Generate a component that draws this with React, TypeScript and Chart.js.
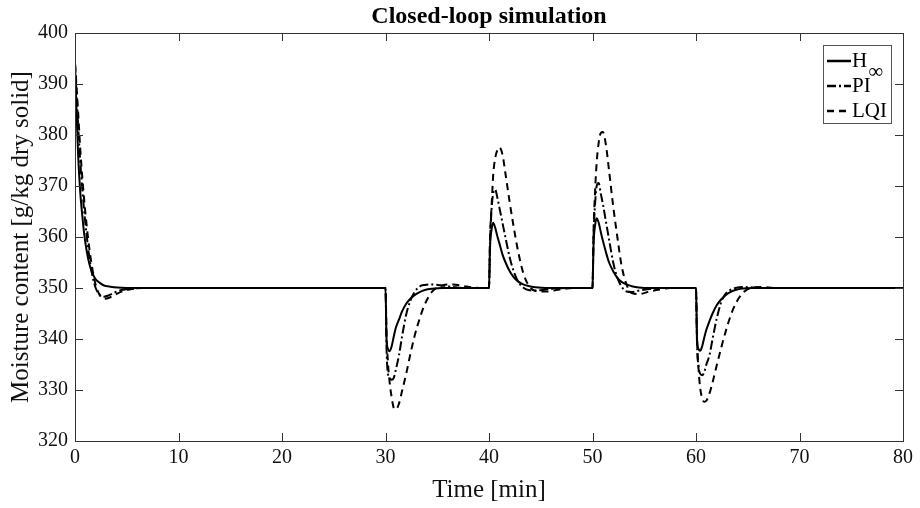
import React, { useEffect, useRef } from "react";
import { Chart, registerables } from "chart.js";

Chart.register(...registerables);

const FONT = "'Liberation Serif', 'Times New Roman', serif";

const chartTitle = "Closed-loop simulation";
const xAxisTitle = "Time [min]";
const yAxisTitle = "Moisture content [g/kg dry solid]";
const xTicks = [0, 10, 20, 30, 40, 50, 60, 70, 80];
const yTicks = [320, 330, 340, 350, 360, 370, 380, 390, 400];

const seriesNames = ["H", "PI", "LQI"];
const seriesSubscripts = ["∞", "", ""];

const time = [
  0, 0.15, 0.3, 0.5, 0.7, 0.9, 1.1, 1.4, 1.7, 2.0, 2.4, 2.8, 3.3, 3.8, 4.5, 5.5, 6.5, 8,
  30, 30.1, 30.25, 30.4, 30.6, 30.8, 31, 31.3, 31.6, 32, 32.4, 32.8, 33.3, 33.8, 34.5, 35.5, 36.5, 37.5, 38.5, 39.5,
  40, 40.1, 40.25, 40.4, 40.6, 40.8, 41, 41.3, 41.6, 42, 42.4, 42.8, 43.3, 43.8, 44.5, 45.5, 46.5, 47.5, 48.5, 49.5,
  50, 50.1, 50.25, 50.4, 50.6, 50.8, 51, 51.3, 51.6, 52, 52.4, 52.8, 53.3, 53.8, 54.5, 55.5, 56.5, 57.5, 58.5, 59.5,
  60, 60.1, 60.25, 60.4, 60.6, 60.8, 61, 61.3, 61.6, 62, 62.4, 62.8, 63.3, 63.8, 64.5, 65.5, 66.5, 67.5, 68.5, 69.5,
  80,
];

const hInf = [
  394, 384.5, 376.2, 369, 364.3, 360.4, 357.6, 354.6, 352.8, 351.7, 351, 350.5, 350.3, 350.15, 350.05, 350, 350, 350,
  350, 340, 338, 337.6, 338.6, 340.5, 342.2, 343.8, 345.4, 346.9, 347.9, 348.6, 349.2, 349.6, 349.85, 350, 350, 350, 350, 350,
  350, 358, 361.5, 362.8, 361.8, 360.2, 358.8, 356.6, 355, 353.3, 352.1, 351.3, 350.7, 350.4, 350.15, 350, 350, 350, 350, 350,
  350, 358.5, 362.3, 363.7, 362.8, 361, 359.3, 357, 355, 353.3, 352, 351.2, 350.7, 350.35, 350.1, 350, 350, 350, 350, 350,
  350, 340, 338, 337.7, 338.6, 340.3, 341.8, 343.5, 345, 346.6, 347.7, 348.5, 349.2, 349.6, 349.9, 350, 350, 350, 350, 350,
  350,
];

const pi = [
  394, 388, 382, 375, 369.5, 364.8, 360.8, 355.8, 352.2, 350, 348.6, 348.3, 348.6, 349.1, 349.6, 349.9, 350, 350,
  350, 338, 333, 332.3, 332, 332.4, 334, 336.8, 340.5, 344.8, 347.5, 349.2, 350.3, 350.6, 350.7, 350.5, 350.2, 350, 350, 350,
  350, 359, 365.5, 368.5, 369.3, 367.8, 365.8, 362.8, 359.8, 356, 353.2, 351.3, 350.1, 349.6, 349.5, 349.7, 349.9, 350, 350, 350,
  350, 360, 366.5, 370, 370.6, 368.5, 366.5, 363, 359.5, 355, 352, 350.3, 349.3, 349.2, 349.5, 349.8, 350, 350, 350, 350,
  350, 339, 334.5, 333.2, 332.9, 333.5, 335, 336.8, 340, 344, 347, 348.7, 349.6, 350, 350.2, 350.1, 350, 350, 350, 350,
  350,
];

const lqi = [
  394, 389.5, 384.5, 377.5, 371.8, 367, 362.8, 357.5, 353.5, 350.6, 348.6, 347.9, 348.1, 348.6, 349.3, 349.8, 350, 350,
  350, 341, 335, 331.5, 328.5, 326.5, 326.2, 327.3, 329.8, 333.2, 337, 340.5, 344, 346.8, 349.3, 350.5, 350.7, 350.4, 350.1, 350,
  350, 360, 366, 372, 375.5, 377, 377.6, 376.2, 372.3, 366.8, 361.8, 357.3, 353, 350.6, 349.4, 349.3, 349.6, 349.9, 350, 350,
  350, 361, 369, 374.5, 378.5, 380.4, 380.6, 378, 373, 366, 360, 354.5, 350.6, 349, 348.8, 349.3, 349.7, 350, 350, 350,
  350, 340, 334, 330.5, 328.3, 327.7, 327.9, 329.3, 331.5, 334.8, 338, 341, 344.3, 346.8, 349, 350.1, 350.2, 350, 350, 350,
  350,
];

const seriesValues = [hInf, pi, lqi];
const seriesDash = [[], [9, 3, 2, 3], [7, 5]];

const framePlugin = {
  id: "frame",
  afterDatasetsDraw(chart: any) {
    const { ctx, chartArea, scales } = chart;
    const { left, right, top, bottom } = chartArea;
    ctx.save();
    ctx.strokeStyle = "#333";
    ctx.lineWidth = 1;
    ctx.setLineDash([]);
    ctx.strokeRect(left + 0.5, top + 0.5, right - left, bottom - top);
    const tl = 8;
    ctx.beginPath();
    xTicks.forEach((v) => {
      const x = Math.round(scales.x.getPixelForValue(v)) + 0.5;
      ctx.moveTo(x, bottom);
      ctx.lineTo(x, bottom - tl);
      ctx.moveTo(x, top);
      ctx.lineTo(x, top + tl);
    });
    yTicks.forEach((v) => {
      const y = Math.round(scales.y.getPixelForValue(v)) + 0.5;
      ctx.moveTo(left, y);
      ctx.lineTo(left + tl, y);
      ctx.moveTo(right, y);
      ctx.lineTo(right - tl, y);
    });
    ctx.stroke();

    // title
    ctx.fillStyle = "#000";
    ctx.font = `bold 24px ${FONT}`;
    ctx.textAlign = "center";
    ctx.textBaseline = "middle";
    ctx.fillText(chartTitle, (left + right) / 2, 17);

    // legend
    const bw = 68;
    const bh = 78;
    const bx = right - 12 - bw;
    const by = top + 12;
    ctx.fillStyle = "#fff";
    ctx.fillRect(bx, by, bw, bh);
    ctx.strokeStyle = "#555";
    ctx.lineWidth = 1;
    ctx.strokeRect(bx + 0.5, by + 0.5, bw, bh);
    chart.data.datasets.forEach((ds: any, i: number) => {
      const y = by + 16 + i * 25;
      ctx.strokeStyle = "#000";
      ctx.lineWidth = 2.5;
      ctx.setLineDash(ds.borderDash || []);
      ctx.beginPath();
      ctx.moveTo(bx + 4, y);
      ctx.lineTo(bx + 28, y);
      ctx.stroke();
      ctx.setLineDash([]);
      ctx.fillStyle = "#000";
      ctx.font = `21px ${FONT}`;
      ctx.textAlign = "left";
      ctx.textBaseline = "middle";
      ctx.fillText(seriesNames[i], bx + 29, y);
      if (seriesSubscripts[i]) {
        const w = ctx.measureText(seriesNames[i]).width;
        ctx.font = `21px ${FONT}`;
        ctx.fillText(seriesSubscripts[i], bx + 30 + w, y + 11);
      }
    });
    ctx.restore();
  },
};

export default function App() {
  const ref = useRef<HTMLCanvasElement | null>(null);
  useEffect(() => {
    if (!ref.current) return;
    const tickFont = { family: FONT, size: 20 };
    const titleFont = { family: FONT, size: 25 };
    const chart = new Chart(ref.current, {
      type: "line",
      data: {
        datasets: seriesValues.map((vals, i) => ({
          label: seriesNames[i] + seriesSubscripts[i],
          data: time.map((t, k) => ({ x: t, y: vals[k] })),
          borderColor: "#000",
          backgroundColor: "#000",
          borderWidth: 2,
          borderDash: seriesDash[i],
          pointRadius: 0,
          fill: false,
          cubicInterpolationMode: "monotone" as const,
        })),
      },
      options: {
        animation: false,
        responsive: false,
        maintainAspectRatio: false,
        layout: { padding: { top: 33, right: 17, bottom: 0, left: 0 } },
        plugins: {
          legend: { display: false },
          title: { display: false },
          tooltip: { enabled: false },
        },
        scales: {
          x: {
            type: "linear",
            min: 0,
            max: 80,
            afterBuildTicks: (s: any) => {
              s.ticks = xTicks.map((v) => ({ value: v }));
            },
            ticks: { font: tickFont, color: "#111", padding: 5, maxRotation: 0 },
            grid: { display: false, drawTicks: false },
            border: { display: false },
            title: { display: true, text: xAxisTitle, font: titleFont, color: "#111", padding: { top: 2, bottom: 3 } },
            afterFit: (s: any) => {
              s.height = 67;
            },
          },
          y: {
            type: "linear",
            min: 320,
            max: 400,
            afterBuildTicks: (s: any) => {
              s.ticks = yTicks.map((v) => ({ value: v }));
            },
            ticks: { font: tickFont, color: "#111", padding: 7 },
            grid: { display: false, drawTicks: false },
            border: { display: false },
            title: { display: true, text: yAxisTitle, font: titleFont, color: "#111", padding: { top: 6, bottom: 0 } },
            afterFit: (s: any) => {
              s.width = 75;
            },
          },
        },
      },
      plugins: [framePlugin],
    });
    return () => chart.destroy();
  }, []);
  return (
    <div style={{ position: "absolute", left: 0, top: 0, width: 920, height: 508, background: "#fff" }}>
      <canvas ref={ref} width={920} height={508} />
    </div>
  );
}
